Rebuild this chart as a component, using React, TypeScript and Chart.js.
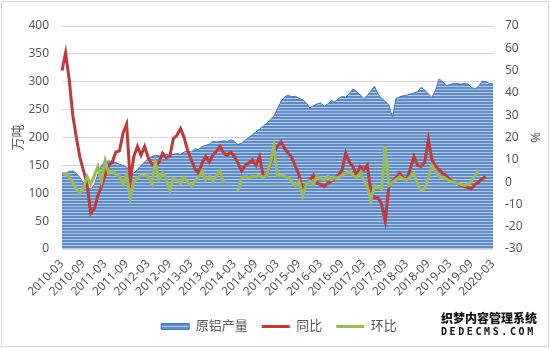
import React, { useEffect, useRef } from "react";
import { Chart, registerables } from "chart.js";

Chart.register(...registerables);

const months: string[] = [
  "2010-03","2010-04","2010-05","2010-06","2010-07","2010-08","2010-09","2010-10","2010-11","2010-12",
  "2011-01","2011-02","2011-03","2011-04","2011-05","2011-06","2011-07","2011-08","2011-09","2011-10","2011-11","2011-12",
  "2012-01","2012-02","2012-03","2012-04","2012-05","2012-06","2012-07","2012-08","2012-09","2012-10","2012-11","2012-12",
  "2013-01","2013-02","2013-03","2013-04","2013-05","2013-06","2013-07","2013-08","2013-09","2013-10","2013-11","2013-12",
  "2014-01","2014-02","2014-03","2014-04","2014-05","2014-06","2014-07","2014-08","2014-09","2014-10","2014-11","2014-12",
  "2015-01","2015-02","2015-03","2015-04","2015-05","2015-06","2015-07","2015-08","2015-09","2015-10","2015-11","2015-12",
  "2016-01","2016-02","2016-03","2016-04","2016-05","2016-06","2016-07","2016-08","2016-09","2016-10","2016-11","2016-12",
  "2017-01","2017-02","2017-03","2017-04","2017-05","2017-06","2017-07","2017-08","2017-09","2017-10","2017-11","2017-12",
  "2018-01","2018-02","2018-03","2018-04","2018-05","2018-06","2018-07","2018-08","2018-09","2018-10","2018-11","2018-12",
  "2019-01","2019-02","2019-03","2019-04","2019-05","2019-06","2019-07","2019-08","2019-09","2019-10","2019-11","2019-12",
  "2020-01","2020-02","2020-03"
];

// 原铝产量 (万吨)
const production: number[] = [
  137, 136, 139, 140, 136, 128, 118, 110, 108, 115,
  135, 150, 157, 158, 157, 155, 152, 150, 147, 140, 136, 142,
  150, 156, 162, 166, 168, 167, 168, 170, 168, 170, 171, 170,
  174, 176, 174, 180, 178, 184, 186, 188, 193, 192, 193, 194,
  193, 196, 193, 187, 190, 195, 200, 205, 210, 215, 220, 226,
  232, 238, 252, 265, 273, 276, 273, 274, 270, 268, 262, 253,
  257, 260, 262, 256, 260, 266, 264, 270, 274, 272, 279, 287,
  282, 277, 270, 275, 283, 292, 278, 270, 265, 258, 237, 270,
  273, 275, 276, 278, 280, 282, 290, 285, 278, 272, 285, 305,
  300, 293, 295, 297, 297, 296, 297, 296, 290, 287, 292, 301,
  300, 297, 296
];

// 同比 (%)
const yoy: number[] = [
  50, 58, 46, 30, 20, 11, 5, -1, -14, -12,
  -6, -2, 3, 7.5, 9, 13.5, 14, 22, 26, 0.5, 11.5, 16,
  12, 16, 11, 8, 7, 9, 13, 11, 11.5, 19.5, 21, 24,
  20, 14, 10, 6, 4, 8.5, 11.5, 9, 12, 14, 16, 13,
  12, 13.5, 11.5, 8.5, 5, 7.5, 8.5, 10, 7.5, 11.5, 3, 3,
  8, 13.5, 16, 18, 15, 13, 11, 7, 3, -3.5, -1, 1,
  3, -0.5, -1, -2, -0.5, 0.5, 2, 3, 5.5, 13, 9, 7,
  3, 7, 5.5, 7.5, -4, -7, -7, -10, -17.5, -2, 0.5, 2,
  4, 2, 1.5, 6, 11.5, 7.5, 7, 9, 19, 10, 7, 5.5,
  4, 3, 1, 0, -0.5, -1.5, -2, -2.5, -3, -1, 0, 1.5,
  2.5
];

// 环比 (%)
const mom: (number | null)[] = [
  4, 3.5, 2.5, -0.5, -3, -5, -2.5, 2.5, -1, 3,
  7, 0.5, 9.5, 4, 5, 3.5, 2.5, -1, 3, -7, 0, 2,
  3, 3, 2.5, -0.5, 9, 1, 4, 2, -4, 1.5, 1, -0.5,
  2, 0, -2, 0.5, 2, 5, 1, 2.5, 0.5, 3, 5, -0.5,
  null, null, null, -4, 2, 2.5, 2, 2.5, 2.5, 3, 2, 3,
  8.5, 16, 3, 3, 2.5, 2, 0, -1.5, 0.5, -6, -1, 0.5,
  -1, 2.5, 1.5, 1, 2.5, 1, 2, 2, 3, 4, 5, 3,
  2, 4, 1, -2, -8, -1.5, -2.5, -3, 16, -1.5, 0, 1,
  2.5, 1.5, 1, 2.5, 4, -1, -3.5, -3, 2, 7.5, 5, 2.5,
  2, 1.5, 0.5, 0, -0.5, -1, -1.5, -1, 0.5, 3, 5.5, null,
  null
];

const leftTicks = { min: 0, max: 400, step: 50 };
const rightTicks = { min: -30, max: 70, step: 10 };

const FONT = "'Noto Sans', 'Noto Sans CJK SC', sans-serif";
const BLUE = "#4f81bd";
const RED = "#c0393b";
const GREEN = "#9bbb59";

function makePattern(): CanvasPattern | string {
  const c = document.createElement("canvas");
  c.width = 4;
  c.height = 3;
  const g = c.getContext("2d");
  if (!g) return BLUE;
  g.fillStyle = "#5f8cc6";
  g.fillRect(0, 0, 4, 3);
  g.fillStyle = "#b3c8e4";
  g.fillRect(0, 2, 4, 1);
  const p = g.createPattern(c, "repeat");
  return p || BLUE;
}

export default function App() {
  const ref = useRef<HTMLCanvasElement | null>(null);

  useEffect(() => {
    document.body.style.margin = "0";
    const canvas = ref.current;
    if (!canvas) return;
    const pattern = makePattern();
    const chart = new Chart(canvas, {
      type: "line",
      data: {
        labels: months,
        datasets: [
          {
            label: "原铝产量",
            data: production,
            yAxisID: "y",
            fill: "origin",
            backgroundColor: pattern as any,
            borderColor: "#4a78b4",
            borderWidth: 1,
            pointRadius: 0,
            tension: 0,
            order: 2,
          },
          {
            label: "同比",
            data: yoy,
            yAxisID: "y1",
            fill: false,
            borderColor: RED,
            borderWidth: 3,
            pointRadius: 0,
            tension: 0,
            order: 1,
          },
          {
            label: "环比",
            data: mom,
            yAxisID: "y1",
            fill: false,
            borderColor: GREEN,
            borderWidth: 3,
            pointRadius: 0,
            tension: 0,
            spanGaps: false,
            order: 0,
          },
        ],
      },
      options: {
        responsive: false,
        animation: false,
        devicePixelRatio: 1,
        layout: { padding: { top: 26, left: 8, right: 0, bottom: 5 } },
        plugins: {
          tooltip: { enabled: false },
          legend: {
            position: "bottom",
            labels: {
              usePointStyle: true,
              pointStyleWidth: 28,
              boxHeight: 6,
              padding: 14,
              color: "#595959",
              font: { family: FONT, size: 13 },
              generateLabels: () => [
                {
                  text: "原铝产量",
                  fillStyle: pattern as any,
                  strokeStyle: "#4a78b4",
                  lineWidth: 1,
                  pointStyle: "rect",
                  hidden: false,
                  datasetIndex: 0,
                  fontColor: "#595959",
                },
                {
                  text: "同比",
                  fillStyle: RED,
                  strokeStyle: RED,
                  lineWidth: 3,
                  pointStyle: "line",
                  hidden: false,
                  datasetIndex: 1,
                  fontColor: "#595959",
                },
                {
                  text: "环比",
                  fillStyle: GREEN,
                  strokeStyle: GREEN,
                  lineWidth: 3,
                  pointStyle: "line",
                  hidden: false,
                  datasetIndex: 2,
                  fontColor: "#595959",
                },
              ],
            },
          },
        },
        scales: {
          x: {
            type: "category",
            offset: false,
            grid: { display: false, drawTicks: false },
            border: { display: false },
            ticks: {
              autoSkip: false,
              maxRotation: 45,
              minRotation: 45,
              padding: 8,
              color: "#595959",
              font: { family: FONT, size: 12 },
              callback: (_v: any, i: number) => (i % 6 === 0 ? months[i] : ""),
            },
            afterFit: (s: any) => {
              s.height = 57;
            },
          },
          y: {
            position: "left",
            min: leftTicks.min,
            max: leftTicks.max,
            grid: { color: "#d9d9d9", drawTicks: false },
            border: { display: false },
            ticks: {
              stepSize: leftTicks.step,
              padding: 13,
              color: "#595959",
              font: { family: FONT, size: 12 },
            },
            title: {
              display: true,
              text: "万吨",
              color: "#595959",
              font: { family: FONT, size: 13 },
              padding: { top: 2, bottom: 0 },
            },
            afterFit: (s: any) => {
              s.width = 54;
            },
          },
          y1: {
            position: "right",
            min: rightTicks.min,
            max: rightTicks.max,
            grid: { drawOnChartArea: false, drawTicks: false },
            border: { display: false },
            ticks: {
              stepSize: rightTicks.step,
              padding: 12,
              color: "#595959",
              font: { family: FONT, size: 12 },
            },
            title: {
              display: true,
              text: "%",
              color: "#595959",
              font: { family: FONT, size: 13 },
              padding: { top: 7, bottom: 0 },
            },
            afterFit: (s: any) => {
              s.width = 57;
            },
          },
        },
      },
    });
    return () => chart.destroy();
  }, []);

  return (
    <div style={{ position: "absolute", left: 0, top: 0, width: 550, height: 348, background: "#fff" }}>
      <canvas ref={ref} width={550} height={348} style={{ position: "absolute", left: 0, top: 0, width: 550, height: 348 }} />
      <div
        style={{
          position: "absolute",
          left: 1,
          top: 1,
          width: 546,
          height: 344,
          border: "1px solid #d6d6d6",
          pointerEvents: "none",
        }}
      />
      <div
        style={{
          position: "absolute",
          left: 441,
          top: 312,
          width: 100,
          fontFamily: "'Noto Sans CJK SC', sans-serif",
          color: "#111",
          textShadow: "0 0 2px #fff, 0 0 2px #fff",
          lineHeight: 1,
        }}
      >
        <div style={{ fontSize: 12, fontWeight: 900, letterSpacing: 0, whiteSpace: "nowrap" }}>织梦内容管理系统</div>
        <div
          style={{
            fontSize: 10,
            fontWeight: 700,
            fontFamily: "'DejaVu Sans Mono', monospace",
            letterSpacing: 2.6,
            marginTop: 3,
            whiteSpace: "nowrap",
          }}
        >
          DEDECMS.COM
        </div>
      </div>
    </div>
  );
}
